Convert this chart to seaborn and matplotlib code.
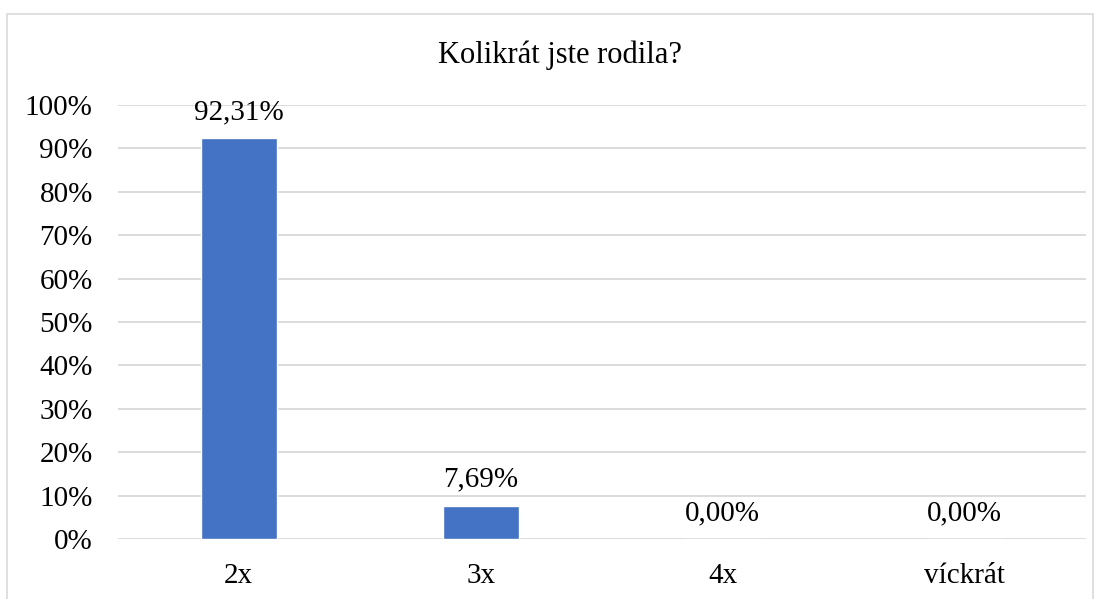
import matplotlib
matplotlib.use("Agg")
import matplotlib.pyplot as plt
import matplotlib.patches as patches
import seaborn as sns
import pandas as pd
from matplotlib.ticker import FuncFormatter

categories = ["2x", "3x", "4x", "víckrát"]
values = [92.31, 7.69, 0.00, 0.00]

df = pd.DataFrame({"category": categories, "value": values})

sns.set_theme(style="white")
plt.rcParams["font.family"] = ["Liberation Serif", "DejaVu Serif"]

fig = plt.figure(figsize=(11.01, 5.99), dpi=100)
ax = fig.add_axes([0.107, 0.1002, 0.879, 0.7245])

sns.barplot(data=df, x="category", y="value", color="#4472C4", width=0.315,
            saturation=1, ax=ax, zorder=3)

ax.set_ylim(0, 100)
ax.set_yticks(range(0, 101, 10))
ax.yaxis.set_major_formatter(FuncFormatter(lambda v, p: f"{int(v)}%"))
ax.grid(axis="y", color="#D9D9D9", linewidth=1.3, zorder=0)
ax.set_axisbelow(True)
for s in ax.spines.values():
    s.set_visible(False)
ax.tick_params(axis="both", length=0, labelsize=21, colors="black")
ax.tick_params(axis="y", pad=18)
ax.tick_params(axis="x", pad=17)
ax.set_xlabel("")
ax.set_ylabel("")

for i, v in enumerate(values):
    ax.text(i, v + 3.0, f"{v:.2f}%".replace(".", ","), ha="center", va="bottom",
            fontsize=21, color="black")

fig.text(0.509, 0.908, "Kolikrát jste rodila?", ha="center", va="center",
         fontsize=22, color="black")

fig.patches.append(patches.Rectangle((7 / 1101, -0.01), 1086 / 1101, 1 - 14 / 599 + 0.01,
                                     transform=fig.transFigure, fill=False,
                                     edgecolor="#D9D9D9", linewidth=1.2))

fig.savefig("out.png", dpi=100)
